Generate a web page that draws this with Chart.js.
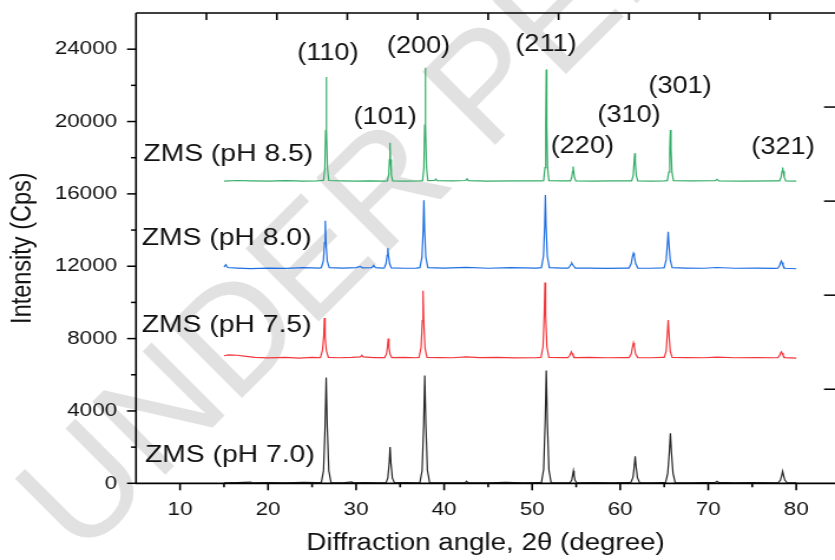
<!DOCTYPE html>
<html>
<head>
<meta charset="utf-8">
<script src="https://cdn.jsdelivr.net/npm/chart.js@4"></script>
<style>
  html, body { margin: 0; padding: 0; background: #fff; overflow: hidden; }
  #xrd { width: 835px !important; height: 560px !important; }
</style>
</head>
<body>
<canvas id="xrd" width="708" height="560" style="width:835px;height:560px"></canvas>
<script>
/**
=========================================
        DATA (2-theta, counts)
=========================================
**/

// the original figure is stretched sideways, the canvas is drawn narrow and widened by css
const S = 835 / 708;

const seriesNames = ["ZMS (pH 7.0)", "ZMS (pH 7.5)", "ZMS (pH 8.0)", "ZMS (pH 8.5)"];
const seriesColors = ["#262626", "#f2363b", "#1f6fe3", "#35ad66"];

const zms70 = [
    [15, 20], [16.5, 40], [18, 70], [18.2, 30], [20, 40], [22, 30], [24, 50], [25.5, 40],
    [26.05, 40], [26.3, 700], [26.48, 3200], [26.6, 5850], [26.72, 3200], [26.9, 700], [27.15, 40],
    [28.5, 30], [29.5, 80], [29.6, 30], [31, 40], [32.5, 30],
    [33.4, 30], [33.6, 280], [33.76, 1100], [33.86, 2000], [33.96, 1100], [34.12, 280], [34.35, 30],
    [35.5, 40], [36.8, 30],
    [37.25, 40], [37.5, 720], [37.68, 3300], [37.8, 5960], [37.92, 3300], [38.1, 720], [38.35, 40],
    [40, 30], [42.4, 40], [42.55, 120], [42.7, 40], [45, 30], [47, 50], [49, 30], [50.6, 40],
    [51.05, 40], [51.3, 760], [51.48, 3450], [51.6, 6230], [51.72, 3450], [51.9, 760], [52.15, 40],
    [53.5, 30],
    [54.3, 30], [54.5, 180], [54.6, 450], [54.68, 680], [54.76, 450], [54.86, 180], [55.05, 30],
    [57, 40], [59, 30], [60.8, 40],
    [61.2, 40], [61.45, 330], [61.6, 950], [61.7, 1490], [61.8, 950], [61.95, 330], [62.2, 40],
    [63.5, 30], [64.8, 40],
    [65.15, 40], [65.4, 550], [65.58, 1700], [65.7, 2760], [65.82, 1700], [66.0, 550], [66.25, 40],
    [68, 30], [70.8, 50], [71.0, 110], [71.2, 50], [73, 30], [75, 40], [77.5, 30],
    [77.95, 30], [78.2, 180], [78.35, 440], [78.45, 660], [78.55, 440], [78.7, 180], [78.95, 30],
    [80, 30]
];

const zms75 = [
    [15, 7050], [15.5, 7100], [16.5, 7080], [17.5, 7020], [18.5, 6960], [20, 6930], [22, 6960], [23.5, 6920], [25, 6960], [25.8, 6950],
    [25.95, 6960], [26.18, 7350], [26.32, 8100], [26.4, 9140], [26.48, 8100], [26.62, 7350], [26.85, 6960],
    [28, 6940], [29.5, 6960], [30.5, 6990], [30.65, 7080], [30.8, 6990], [32, 6950],
    [33.25, 6950], [33.45, 7150], [33.57, 7550], [33.65, 8000], [33.73, 7550], [33.85, 7150], [34.05, 6950],
    [35.5, 6960], [36.8, 6940],
    [37.15, 6960], [37.38, 7500], [37.52, 9000], [37.6, 10650], [37.68, 9000], [37.82, 7500], [38.05, 6960],
    [39.5, 6950], [41, 6940], [42.5, 6990], [44, 6950], [46, 6960], [48, 6930], [50.5, 6950],
    [51.0, 6960], [51.23, 7550], [51.37, 9300], [51.45, 11100], [51.53, 9300], [51.67, 7550], [51.9, 6960],
    [53.5, 6950],
    [54.05, 6950], [54.25, 7050], [54.37, 7180], [54.45, 7270], [54.53, 7180], [54.65, 7050], [54.85, 6950],
    [56.5, 6960], [58.5, 6940], [60.5, 6950],
    [61.0, 6950], [61.25, 7150], [61.4, 7550], [61.5, 7760], [61.6, 7550], [61.75, 7150], [62.0, 6950],
    [63.5, 6940], [64.8, 6960],
    [65.0, 6960], [65.22, 7300], [65.36, 8300], [65.45, 9030], [65.54, 8300], [65.68, 7300], [65.9, 6960],
    [67.5, 6950], [69.5, 6940], [71, 6970], [73, 6940], [75.5, 6950], [77.5, 6940],
    [77.9, 6950], [78.1, 7060], [78.22, 7200], [78.3, 7270], [78.38, 7200], [78.5, 7060], [78.7, 6950],
    [80, 6920]
];

const zms80 = [
    [15, 11950], [15.2, 12080], [15.4, 11930], [16.5, 11900], [18, 11870], [20, 11900], [22, 11880], [24, 11920], [25.8, 11900],
    [26.05, 11920], [26.28, 12300], [26.42, 13300], [26.5, 14510], [26.58, 13300], [26.72, 12300], [26.95, 11920],
    [28.5, 11900], [30, 11920], [30.5, 11990], [30.7, 11910], [31.8, 11920], [32.0, 12050], [32.2, 11920], [33.0, 11900],
    [33.2, 11910], [33.4, 12150], [33.52, 12600], [33.6, 13000], [33.68, 12600], [33.8, 12150], [34.0, 11910],
    [35.5, 11890], [36.8, 11900],
    [37.25, 11920], [37.48, 12500], [37.62, 14000], [37.7, 15650], [37.78, 14000], [37.92, 12500], [38.15, 11920],
    [40, 11900], [42.5, 11940], [45, 11890], [47.5, 11920], [50.5, 11900],
    [51.05, 11920], [51.28, 12550], [51.42, 14200], [51.5, 15940], [51.58, 14200], [51.72, 12550], [51.95, 11920],
    [53.5, 11900],
    [54.1, 11900], [54.3, 12010], [54.42, 12110], [54.5, 12170], [54.58, 12110], [54.7, 12010], [54.9, 11900],
    [56.5, 11900], [58.5, 11880], [60.5, 11900],
    [61.0, 11900], [61.25, 12150], [61.4, 12550], [61.5, 12720], [61.6, 12550], [61.75, 12150], [62.0, 11900],
    [63.5, 11890], [64.8, 11910],
    [65.0, 11920], [65.22, 12350], [65.36, 13200], [65.45, 13900], [65.54, 13200], [65.68, 12350], [65.9, 11920],
    [67.5, 11900], [69.5, 11890], [71, 11930], [73, 11890], [75.5, 11900], [77.5, 11880],
    [77.9, 11890], [78.1, 12030], [78.22, 12200], [78.3, 12290], [78.38, 12200], [78.5, 12030], [78.7, 11890],
    [80, 11860]
];

const zms85 = [
    [15, 16700], [16.5, 16740], [18, 16720], [20, 16700], [22, 16730], [24, 16710], [25.5, 16720], [26.1, 16740],
    [26.3, 16740], [26.45, 17400], [26.54, 19500], [26.6, 22460], [26.66, 19500], [26.75, 17400], [26.9, 16740],
    [28.5, 16720], [30, 16700], [31.5, 16720], [33.2, 16710],
    [33.55, 16720], [33.7, 17050], [33.79, 17900], [33.85, 18830], [33.91, 17900], [34.0, 17050], [34.15, 16720],
    [35.5, 16710], [37.2, 16720],
    [37.55, 16730], [37.7, 17450], [37.79, 19800], [37.85, 22970], [37.91, 19800], [38.0, 17450], [38.15, 16730],
    [38.9, 16740], [39.05, 16820], [39.2, 16730], [41, 16720], [42.45, 16740], [42.6, 16830], [42.75, 16730],
    [45, 16700], [48, 16720], [51.0, 16720],
    [51.3, 16730], [51.45, 17450], [51.54, 19800], [51.6, 22880], [51.66, 19800], [51.75, 17450], [51.9, 16730],
    [53.5, 16720],
    [54.35, 16720], [54.5, 16920], [54.59, 17250], [54.65, 17510], [54.71, 17250], [54.8, 16920], [54.95, 16720],
    [57, 16710], [59, 16720], [61.0, 16720],
    [61.3, 16720], [61.47, 17000], [61.58, 17750], [61.65, 18240], [61.72, 17750], [61.83, 17000], [62.0, 16720],
    [63.5, 16710], [65.0, 16720],
    [65.35, 16730], [65.52, 17200], [65.63, 18500], [65.7, 19530], [65.77, 18500], [65.88, 17200], [66.05, 16730],
    [68, 16720], [70.8, 16730], [71.0, 16800], [71.2, 16720], [74, 16710], [77.5, 16720],
    [78.1, 16720], [78.27, 16920], [78.38, 17250], [78.45, 17460], [78.52, 17250], [78.63, 16920], [78.8, 16720],
    [80, 16700]
];

// (hkl) labels and where they sit, in data units
const hklText = ["(110)", "(200)", "(211)", "(101)", "(220)", "(310)", "(301)", "(321)"];
const hklX = [26.8, 37.1, 51.57, 33.3, 55.7, 61.0, 66.8, 78.5];
const hklY = [23740, 24140, 24240, 20210, 18610, 20340, 21920, 18530];

// series names written left of each trace
const nameX = [6.02, 5.65, 5.65, 5.83];
const nameY = [1530, 8750, 13530, 18170];

// axes
const xLabelTicks = [10, 20, 30, 40, 50, 60, 70, 80];
const xMinorTicks = [15, 25, 35, 45, 55, 65, 75];
const yLabelTicks = [0, 4000, 8000, 12000, 16000, 20000, 24000];
const yMinorTicks = [2000, 6000, 10000, 14000, 18000, 22000];
const topTicks = [13, 21, 29, 37, 45, 53, 61, 69, 77];
const rightTicks = [5200, 10400, 15600, 20800];

const FONT = "'Liberation Sans', Arial, sans-serif";


/**
=========================================
        PLUGINS: watermark, frame, text
=========================================
**/

const watermark = {
    id: 'watermark',
    beforeDraw(chart) {
        const ctx = chart.ctx;
        ctx.save();
        // place it in page pixels, undo the sideways stretch
        ctx.translate(80 / S, 560);
        ctx.scale(1 / S, 1);
        ctx.rotate(-45 * Math.PI / 180);
        ctx.font = `150px ${FONT}`;
        ctx.fillStyle = '#e1e1e1';
        ctx.textBaseline = 'alphabetic';
        ctx.fillText('UNDER PEER REVIEW', 0, 0);
        ctx.restore();
    }
};

const frame = {
    id: 'frame',
    afterDraw(chart) {
        const { ctx, chartArea: a, scales: { x, y } } = chart;
        ctx.save();
        ctx.strokeStyle = '#000';

        const line = (x1, y1, x2, y2) => {
            ctx.beginPath();
            ctx.moveTo(x1, y1);
            ctx.lineTo(x2, y2);
            ctx.stroke();
        };

        // axis lines
        ctx.lineWidth = 1.8;
        line(a.left - 0.8, a.bottom, a.right, a.bottom);
        ctx.lineWidth = 1.5;
        line(a.left, a.top, a.right, a.top);
        ctx.lineWidth = 1.6;
        line(a.left, a.top, a.left, a.bottom);

        // bottom and left ticks point out
        ctx.lineWidth = 1.6;
        xLabelTicks.forEach(v => line(x.getPixelForValue(v), a.bottom, x.getPixelForValue(v), a.bottom + 7));
        xMinorTicks.forEach(v => line(x.getPixelForValue(v), a.bottom, x.getPixelForValue(v), a.bottom + 4));
        ctx.lineWidth = 1.5;
        yLabelTicks.forEach(v => line(a.left, y.getPixelForValue(v), a.left - 9 / S, y.getPixelForValue(v)));
        yMinorTicks.forEach(v => line(a.left, y.getPixelForValue(v), a.left - 5 / S, y.getPixelForValue(v)));

        // top and right ticks point in
        ctx.lineWidth = 1.6;
        topTicks.forEach(v => line(x.getPixelForValue(v), a.top, x.getPixelForValue(v), a.top + 7));
        ctx.lineWidth = 1.5;
        rightTicks.forEach(v => line(a.right, y.getPixelForValue(v), a.right - 11 / S, y.getPixelForValue(v)));

        ctx.restore();
    }
};

const labels = {
    id: 'labels',
    afterDatasetsDraw(chart) {
        const { ctx, scales: { x, y } } = chart;
        ctx.save();
        ctx.fillStyle = '#111';
        ctx.textBaseline = 'middle';

        ctx.font = `23px ${FONT}`;
        ctx.textAlign = 'center';
        hklText.forEach((t, i) => ctx.fillText(t, x.getPixelForValue(hklX[i]), y.getPixelForValue(hklY[i])));

        ctx.font = `24px ${FONT}`;
        ctx.textAlign = 'left';
        seriesNames.forEach((t, i) => ctx.fillText(t, x.getPixelForValue(nameX[i]), y.getPixelForValue(nameY[i])));

        ctx.restore();
    }
};


/**
=========================================
             CHART
=========================================
**/

const toXY = pts => pts.map(p => ({ x: p[0], y: p[1] }));
const allSeries = [zms70, zms75, zms80, zms85];

const datasets = allSeries.map((pts, i) => ({
    label: seriesNames[i],
    data: toXY(pts),
    showLine: true,
    borderColor: seriesColors[i],
    backgroundColor: seriesColors[i],
    borderWidth: 1.2,
    pointRadius: 0,
    tension: 0
}));

new Chart(document.getElementById('xrd'), {
    type: 'scatter',
    data: { datasets },
    options: {
        responsive: false,
        animation: false,
        layout: { padding: { top: 13, right: 0, bottom: 0, left: 0 } },
        plugins: {
            legend: { display: false },
            tooltip: { enabled: false }
        },
        scales: {
            x: {
                type: 'linear',
                min: 5,
                max: 84.4,
                afterFit: s => {
                    s.height = 76.7;
                    s.paddingLeft = 0;
                    s.paddingRight = 0;
                },
                afterBuildTicks: s => { s.ticks = xLabelTicks.map(v => ({ value: v })); },
                grid: { display: false, drawTicks: false },
                border: { display: false },
                ticks: {
                    padding: 15,
                    color: '#111',
                    font: { family: FONT, size: 19 },
                    maxRotation: 0,
                    autoSkip: false,
                    callback: v => String(v)
                },
                title: {
                    display: true,
                    text: 'Diffraction angle, 2θ (degree)',
                    color: '#111',
                    font: { family: FONT, size: 23.5 },
                    padding: { top: 0, bottom: 2 }
                }
            },
            y: {
                type: 'linear',
                min: 0,
                max: 26000,
                afterFit: s => {
                    s.width = 136 / S;
                    s.paddingTop = 0;
                    s.paddingBottom = 0;
                },
                afterBuildTicks: s => { s.ticks = yLabelTicks.map(v => ({ value: v })); },
                grid: { display: false, drawTicks: false },
                border: { display: false },
                ticks: {
                    padding: 16,
                    color: '#111',
                    font: { family: FONT, size: 19 },
                    autoSkip: false,
                    callback: v => String(v)
                },
                title: {
                    display: true,
                    text: 'Intensity (Cps)',
                    color: '#111',
                    font: { family: FONT, size: 23.5 },
                    padding: { top: 5, bottom: 0 }
                }
            }
        }
    },
    plugins: [watermark, frame, labels]
});
</script>
</body>
</html>
